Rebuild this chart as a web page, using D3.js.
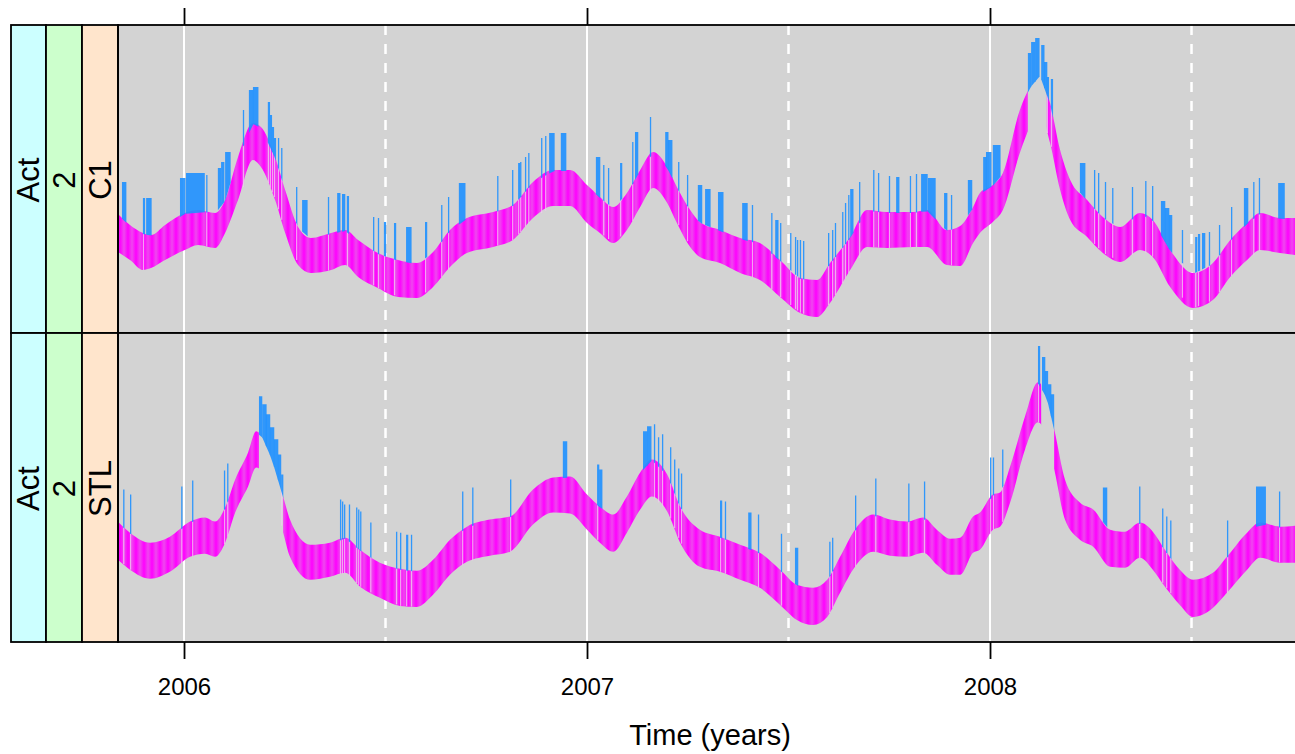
<!DOCTYPE html>
<html><head><meta charset="utf-8">
<script src="https://cdn.jsdelivr.net/npm/d3@7"></script>
<style>body{margin:0;background:#fff}svg{display:block}text{font-family:"Liberation Sans",Arial,Helvetica,sans-serif}</style>
</head><body><svg id="chart" width="1295" height="754"></svg>
<script>
// ---------------- data ----------------
const yearTicks = [2006, 2007, 2008];
const halfYearTicks = [2006.5, 2007.5, 2008.5];
const panelNames = ["C1", "STL"];
const stripVar = "Act";
const stripK = "2";
const axisTitle = "Time (years)";

// C1 panel: expected band
const c1Time = [2005.836,2005.866,2005.898,2005.918,2005.953,2006.002,2006.035,2006.077,2006.102,2006.134,2006.171,2006.191,2006.226,2006.251,2006.283,2006.315,2006.365,2006.400,2006.432,2006.481,2006.531,2006.578,2006.618,2006.660,2006.702,2006.767,2006.816,2006.866,2006.916,2006.958,2007.000,2007.032,2007.065,2007.099,2007.132,2007.164,2007.199,2007.223,2007.256,2007.280,2007.330,2007.380,2007.429,2007.479,2007.529,2007.571,2007.603,2007.653,2007.695,2007.744,2007.809,2007.844,2007.893,2007.926,2007.958,2007.975,2008.007,2008.032,2008.074,2008.099,2008.124,2008.149,2008.174,2008.199,2008.241,2008.280,2008.323,2008.372,2008.404,2008.447,2008.504,2008.553,2008.596,2008.638,2008.670,2008.720,2008.757];
const c1Upper = [59.5,54,50,49,54,60,61.5,60,66.5,88,105,103,88,71.5,53,47.5,50,51.5,46.5,40,36.5,35,40.5,51.5,57.5,60.5,64,75.5,81.5,81.5,74,68,63,70,81.5,90.5,83,73,61.5,55.5,51.5,47.5,45,36.5,27.5,26.5,35,48,61.5,60.5,60.5,61.5,51.5,53.5,63,70,74,80,111.5,123,129,115,91.5,76.5,66.5,58,53,60,56.5,41.5,30,35,46.5,55,60,57.5,57.5];
const c1Lower = [40.5,36.5,31.5,32.5,36.5,41.5,44,42.5,50,66.5,86.5,83,66.5,50,34,30,31.5,34,28,22.5,18,17.5,23,33,40,43,46.5,57.5,63.5,63.5,55,50,45,51.5,63,72.5,65,55,43,38,35,30,26.5,18,10,8,15,31.5,43,42.5,43,43,34,33.5,45,50,55.5,61.5,90,103,110.5,95,71.5,56.5,48,40,35.5,41.5,38,23,12.5,16.5,28,36.5,41.5,40,39];
// C1 panel: observations above the band (start, length in days, value)
const c1AnomTime = [2005.846,2005.898,2005.906,2005.990,2006.005,2006.055,2006.084,2006.092,2006.102,2006.146,2006.161,2006.171,2006.208,2006.213,2006.218,2006.223,2006.233,2006.241,2006.278,2006.293,2006.357,2006.380,2006.392,2006.404,2006.469,2006.481,2006.496,2006.521,2006.551,2006.598,2006.638,2006.655,2006.682,2006.777,2006.814,2006.829,2006.834,2006.846,2006.854,2006.886,2006.896,2006.906,2006.935,2007.022,2007.040,2007.052,2007.082,2007.112,2007.119,2007.156,2007.194,2007.201,2007.226,2007.248,2007.275,2007.293,2007.325,2007.385,2007.409,2007.457,2007.467,2007.479,2007.504,2007.516,2007.521,2007.528,2007.536,2007.598,2007.608,2007.615,2007.633,2007.640,2007.648,2007.653,2007.675,2007.710,2007.722,2007.749,2007.767,2007.801,2007.816,2007.829,2007.846,2007.886,2007.903,2007.945,2007.983,2007.990,2008.007,2008.094,2008.102,2008.112,2008.127,2008.134,2008.141,2008.151,2008.223,2008.258,2008.268,2008.285,2008.303,2008.352,2008.385,2008.402,2008.424,2008.434,2008.444,2008.476,2008.509,2008.516,2008.526,2008.543,2008.568,2008.598,2008.630,2008.653,2008.667,2008.715];
const c1AnomDays = [4,2,5,5,17,1,3,3,5,1,4,5,2,2,2,2,1,1,1,5,1,3,3,2,1,1,2,2,5,2,1,1,6,1,1,2,1,1,1,1,1,5,5,4,1,1,2,1,3,1,3,4,1,1,4,5,5,5,1,1,3,1,1,1,1,1,1,1,1,1,1,1,1,3,1,1,1,1,3,1,1,6,7,3,1,4,3,5,7,3,4,4,3,3,2,2,5,1,1,1,1,1,1,1,4,4,3,1,2,2,3,1,1,1,4,1,1,6];
const c1AnomValue = [75.5,67.5,67.5,77.5,80,79,82.5,85.5,90.5,111.5,121.5,123,115.5,109,103,97.5,97.5,92.5,73,66.5,68,70,69.5,68.5,58,57.5,55.5,55,53,55.5,64,68,75,78.5,81.5,85,85.5,88,90,97.5,98.5,100,100,88,84,82.5,85,95.5,100.5,108,100.5,96.5,85.5,79,74,72,70.5,65,64,60,56.5,55,50,48,46.5,46.5,46,50,51.5,55,60.5,65,69,72,75.5,81.5,80,78.5,78,78.5,79.5,79.5,77.5,70,69,76.5,88,90.5,94,140,145.5,147.5,144,135.5,128,127,85,81.5,80,75.5,72.5,73,76,73.5,66,62.5,59,51.5,48,49.5,50,50.5,54,63,72.5,75.5,77.5,75];
const c1Gaps = [[2008.094, 2008.141]];

// STL panel: expected band
const stlTime = [2005.836,2005.866,2005.916,2005.965,2006.015,2006.052,2006.077,2006.102,2006.127,2006.159,2006.179,2006.194,2006.218,2006.246,2006.263,2006.313,2006.362,2006.400,2006.437,2006.486,2006.536,2006.578,2006.618,2006.660,2006.702,2006.759,2006.809,2006.866,2006.916,2006.958,2007.000,2007.032,2007.065,2007.099,2007.132,2007.161,2007.199,2007.231,2007.280,2007.330,2007.380,2007.429,2007.479,2007.521,2007.561,2007.596,2007.628,2007.665,2007.710,2007.752,2007.794,2007.834,2007.868,2007.901,2007.926,2007.958,2007.975,2008.007,2008.025,2008.050,2008.087,2008.119,2008.141,2008.161,2008.186,2008.223,2008.256,2008.298,2008.335,2008.372,2008.404,2008.434,2008.471,2008.504,2008.553,2008.588,2008.638,2008.670,2008.720,2008.757];
const stlUpper = [60,54.5,49.5,52.5,60,62,60,67,81,94.5,105,102.5,91.5,72.5,61,48.5,49.5,52,46,39.5,36.5,35.5,41,51,57.5,61,62.5,76,82,82.5,73.5,67.5,63.5,72.5,84.5,91,83.5,67.5,56,52.5,48.5,44.5,36,28.5,27,31,42.5,56,63.5,61,60,62,56,51.5,52,62.5,64.5,73.5,74.5,87.5,112.5,129.5,122,104.5,81,69.5,66,56,55,59.5,55,46,36,31,34.5,42.5,54.5,59.5,57.5,58];
const stlLower = [41,36,31.5,35,42.5,44,42.5,49.5,64.5,77.5,87,85,73.5,54.5,42.5,31,32.5,34.5,27.5,22,18,17.5,23.5,33.5,40,43,45,58.5,64.5,64,56,49.5,45,54.5,66,72.5,65,49.5,37.5,35,31,27,18.5,11,8.5,12.5,24.5,37.5,45,43,42.5,44.5,38.5,33.5,33.5,44.5,46,56,57.5,69.5,96,109.5,102,84.5,61,51,47.5,37.5,37,42,36,27.5,18.5,12.5,17,24.5,36,42,39.5,39.5];
const stlAnomTime = [2005.849,2005.866,2005.993,2006.020,2006.099,2006.107,2006.186,2006.194,2006.203,2006.213,2006.223,2006.233,2006.241,2006.387,2006.392,2006.397,2006.409,2006.427,2006.432,2006.437,2006.462,2006.526,2006.536,2006.551,2006.563,2006.690,2006.715,2006.809,2006.940,2007.025,2007.030,2007.139,2007.149,2007.166,2007.176,2007.186,2007.206,2007.216,2007.226,2007.233,2007.330,2007.342,2007.400,2007.424,2007.481,2007.516,2007.601,2007.608,2007.665,2007.715,2007.797,2007.836,2008.000,2008.007,2008.030,2008.119,2008.129,2008.136,2008.144,2008.151,2008.280,2008.370,2008.427,2008.437,2008.447,2008.588,2008.660,2008.717];
const stlAnomDays = [1,1,1,1,1,1,3,4,4,4,4,3,2,1,1,1,1,1,1,1,1,1,1,2,1,1,1,1,4,2,3,4,4,1,1,1,1,1,1,1,2,1,3,1,1,3,1,1,1,1,1,1,1,1,1,2,3,3,3,3,4,1,1,1,1,1,9,1];
const stlAnomValue = [76,73.5,77.5,80.5,85.5,89,122.5,118.5,113.5,107,101,93.5,83.5,71,70,68.5,68.5,67,66,65,59.5,55,54.5,53.5,53.5,75,77,81,100,88.5,86,105,107.5,108.5,102,103.5,97,91,86.5,84,70.5,70,64.5,63.5,54,47,50,52,73,81.5,79,80,92,92,96,147.5,142,135,128.5,123.5,77,77.5,66.5,62.5,60.5,60.5,77.5,75];
const stlGaps = [[2006.186, 2006.246], [2008.127, 2008.159]];

// ---------------- layout ----------------
const svg = d3.select("#chart");
const plotLeft = 118, plotRight = 1295;
const x = d3.scaleLinear().domain([2005.8362, 2008.7568]).range([plotLeft, plotRight]);
const yDomain = [0, 154];
const layout = [{top: 25, bottom: 333}, {top: 333, bottom: 642}];
const stripEdges = [11, 46, 82, 118];
const stripColors = ["#ccffff", "#ccffcc", "#ffe5cc"];
const spikeFill = "#1e90ff", bg = "#d3d3d3";

const panels = [
  {name: panelNames[0], time: c1Time, upper: c1Upper, lower: c1Lower, aT: c1AnomTime, aD: c1AnomDays, aV: c1AnomValue, gaps: c1Gaps},
  {name: panelNames[1], time: stlTime, upper: stlUpper, lower: stlLower, aT: stlAnomTime, aD: stlAnomDays, aV: stlAnomValue, gaps: stlGaps}
];

const defs = svg.append("defs");
const grad = defs.append("linearGradient").attr("id", "stripeGrad").attr("x1", "0").attr("x2", "1").attr("y1", "0").attr("y2", "0");
grad.append("stop").attr("offset", "0").attr("stop-color", "#ff00ff");
grad.append("stop").attr("offset", "0.5").attr("stop-color", "#ee48ee");
grad.append("stop").attr("offset", "1").attr("stop-color", "#ff00ff");
const pat = defs.append("pattern").attr("id", "bandPat").attr("patternUnits", "userSpaceOnUse").attr("width", 8).attr("height", 10);
pat.append("rect").attr("width", 8).attr("height", 10).attr("fill", "url(#stripeGrad)");

panels.forEach((p, k) => {
  const L = layout[k];
  const y = d3.scaleLinear().domain(yDomain).range([L.bottom, L.top]);
  const g = svg.append("g");

  defs.append("clipPath").attr("id", "pclip" + k).append("rect")
    .attr("x", plotLeft).attr("y", L.top).attr("width", plotRight - plotLeft + 10).attr("height", L.bottom - L.top);

  const bc = defs.append("clipPath").attr("id", "bclip" + k);
  const dom = x.domain();
  let start = dom[0] - 0.1;
  p.gaps.forEach(gp => {
    bc.append("rect").attr("x", x(start)).attr("y", L.top).attr("width", x(gp[0]) - x(start)).attr("height", L.bottom - L.top);
    start = gp[1];
  });
  bc.append("rect").attr("x", x(start)).attr("y", L.top).attr("width", x(dom[1] + 0.1) - x(start)).attr("height", L.bottom - L.top);

  g.append("rect").attr("x", plotLeft).attr("y", L.top).attr("width", plotRight - plotLeft + 10).attr("height", L.bottom - L.top).attr("fill", bg);

  const inner = g.append("g").attr("clip-path", "url(#pclip" + k + ")");
  inner.selectAll("line.yr").data(yearTicks).join("line")
    .attr("x1", d => x(d)).attr("x2", d => x(d)).attr("y1", L.top).attr("y2", L.bottom)
    .attr("stroke", "#fff").attr("stroke-width", 2);
  inner.selectAll("line.hy").data(halfYearTicks).join("line")
    .attr("x1", d => x(d)).attr("x2", d => x(d)).attr("y1", L.top).attr("y2", L.bottom)
    .attr("stroke", "#fff").attr("stroke-width", 2.5).attr("stroke-dasharray", "10,9");

  const pts = p.time.map((t, i) => ({t, u: p.upper[i], l: p.lower[i]}));
  const area = d3.area().x(d => x(d.t)).y0(d => y(d.l)).y1(d => y(d.u)).curve(d3.curveMonotoneX);
  inner.append("g").attr("clip-path", "url(#bclip" + k + ")")
    .append("path").attr("d", area(pts)).attr("fill", "url(#bandPat)");

  const upAt = d3.scaleLinear().domain(p.time).range(p.upper).clamp(true);
  const loAt = d3.scaleLinear().domain(p.time).range(p.lower).clamp(true);
  const anoms = p.aT.map((t, i) => ({t, days: p.aD[i], v: p.aV[i]}));

  inner.selectAll("rect.gap").data(anoms.filter(a => a.days <= 2)).join("rect")
    .attr("x", a => x(a.t)).attr("width", 1.2)
    .attr("y", a => y(upAt(a.t))).attr("height", a => y(loAt(a.t)) - y(upAt(a.t)))
    .attr("fill", "#f0c8f0").attr("opacity", 0.8);

  inner.selectAll("path.spike").data(anoms).join("path")
    .attr("d", a => {
      const t1 = a.t + a.days / 365;
      const x0 = x(a.t), x1 = Math.max(x(t1), x0 + 1.3);
      const yv = y(a.v);
      const b0 = y(upAt(a.t)) + 1, b1 = y(upAt(t1)) + 1;
      return `M${x0},${yv}L${x1},${yv}L${x1},${b1}L${x0},${b0}Z`;
    })
    .attr("fill", spikeFill).attr("opacity", 0.9);

  for (let s = 0; s < 3; s++) {
    g.append("rect").attr("x", stripEdges[s]).attr("y", L.top).attr("width", stripEdges[s + 1] - stripEdges[s]).attr("height", L.bottom - L.top)
      .attr("fill", stripColors[s]).attr("stroke", "#000").attr("stroke-width", 1.8);
    const lab = [stripVar, stripK, p.name][s];
    const cx = (stripEdges[s] + stripEdges[s + 1]) / 2, cy = (L.top + L.bottom) / 2 + 1;
    g.append("text").attr("transform", `translate(${cx},${cy}) rotate(-90)`)
      .attr("text-anchor", "middle").attr("dy", "0.35em").attr("font-size", 31).attr("fill", "#000").text(lab);
  }
  g.append("rect").attr("x", plotLeft).attr("y", L.top).attr("width", plotRight - plotLeft + 20).attr("height", L.bottom - L.top)
    .attr("fill", "none").attr("stroke", "#000").attr("stroke-width", 1.8);
});

const axTop = d3.axisTop(x).tickValues(yearTicks).tickSize(17).tickFormat("");
const gTop = svg.append("g").attr("transform", `translate(0,${layout[0].top})`).call(axTop);
gTop.select(".domain").remove();
gTop.selectAll(".tick line").attr("stroke", "#000").attr("stroke-width", 1.8);

const axBot = d3.axisBottom(x).tickValues(yearTicks).tickSize(17).tickPadding(19).tickFormat(d3.format("d"));
const gBot = svg.append("g").attr("transform", `translate(0,${layout[1].bottom})`).call(axBot);
gBot.select(".domain").remove();
gBot.selectAll(".tick line").attr("stroke", "#000").attr("stroke-width", 1.8);
gBot.selectAll(".tick text").attr("font-size", 24).attr("fill", "#000").attr("font-family", '"Liberation Sans",Arial,sans-serif');

svg.append("text").attr("x", 710).attr("y", 745).attr("text-anchor", "middle").attr("font-size", 29).attr("fill", "#000").text(axisTitle);
</script></body></html>
